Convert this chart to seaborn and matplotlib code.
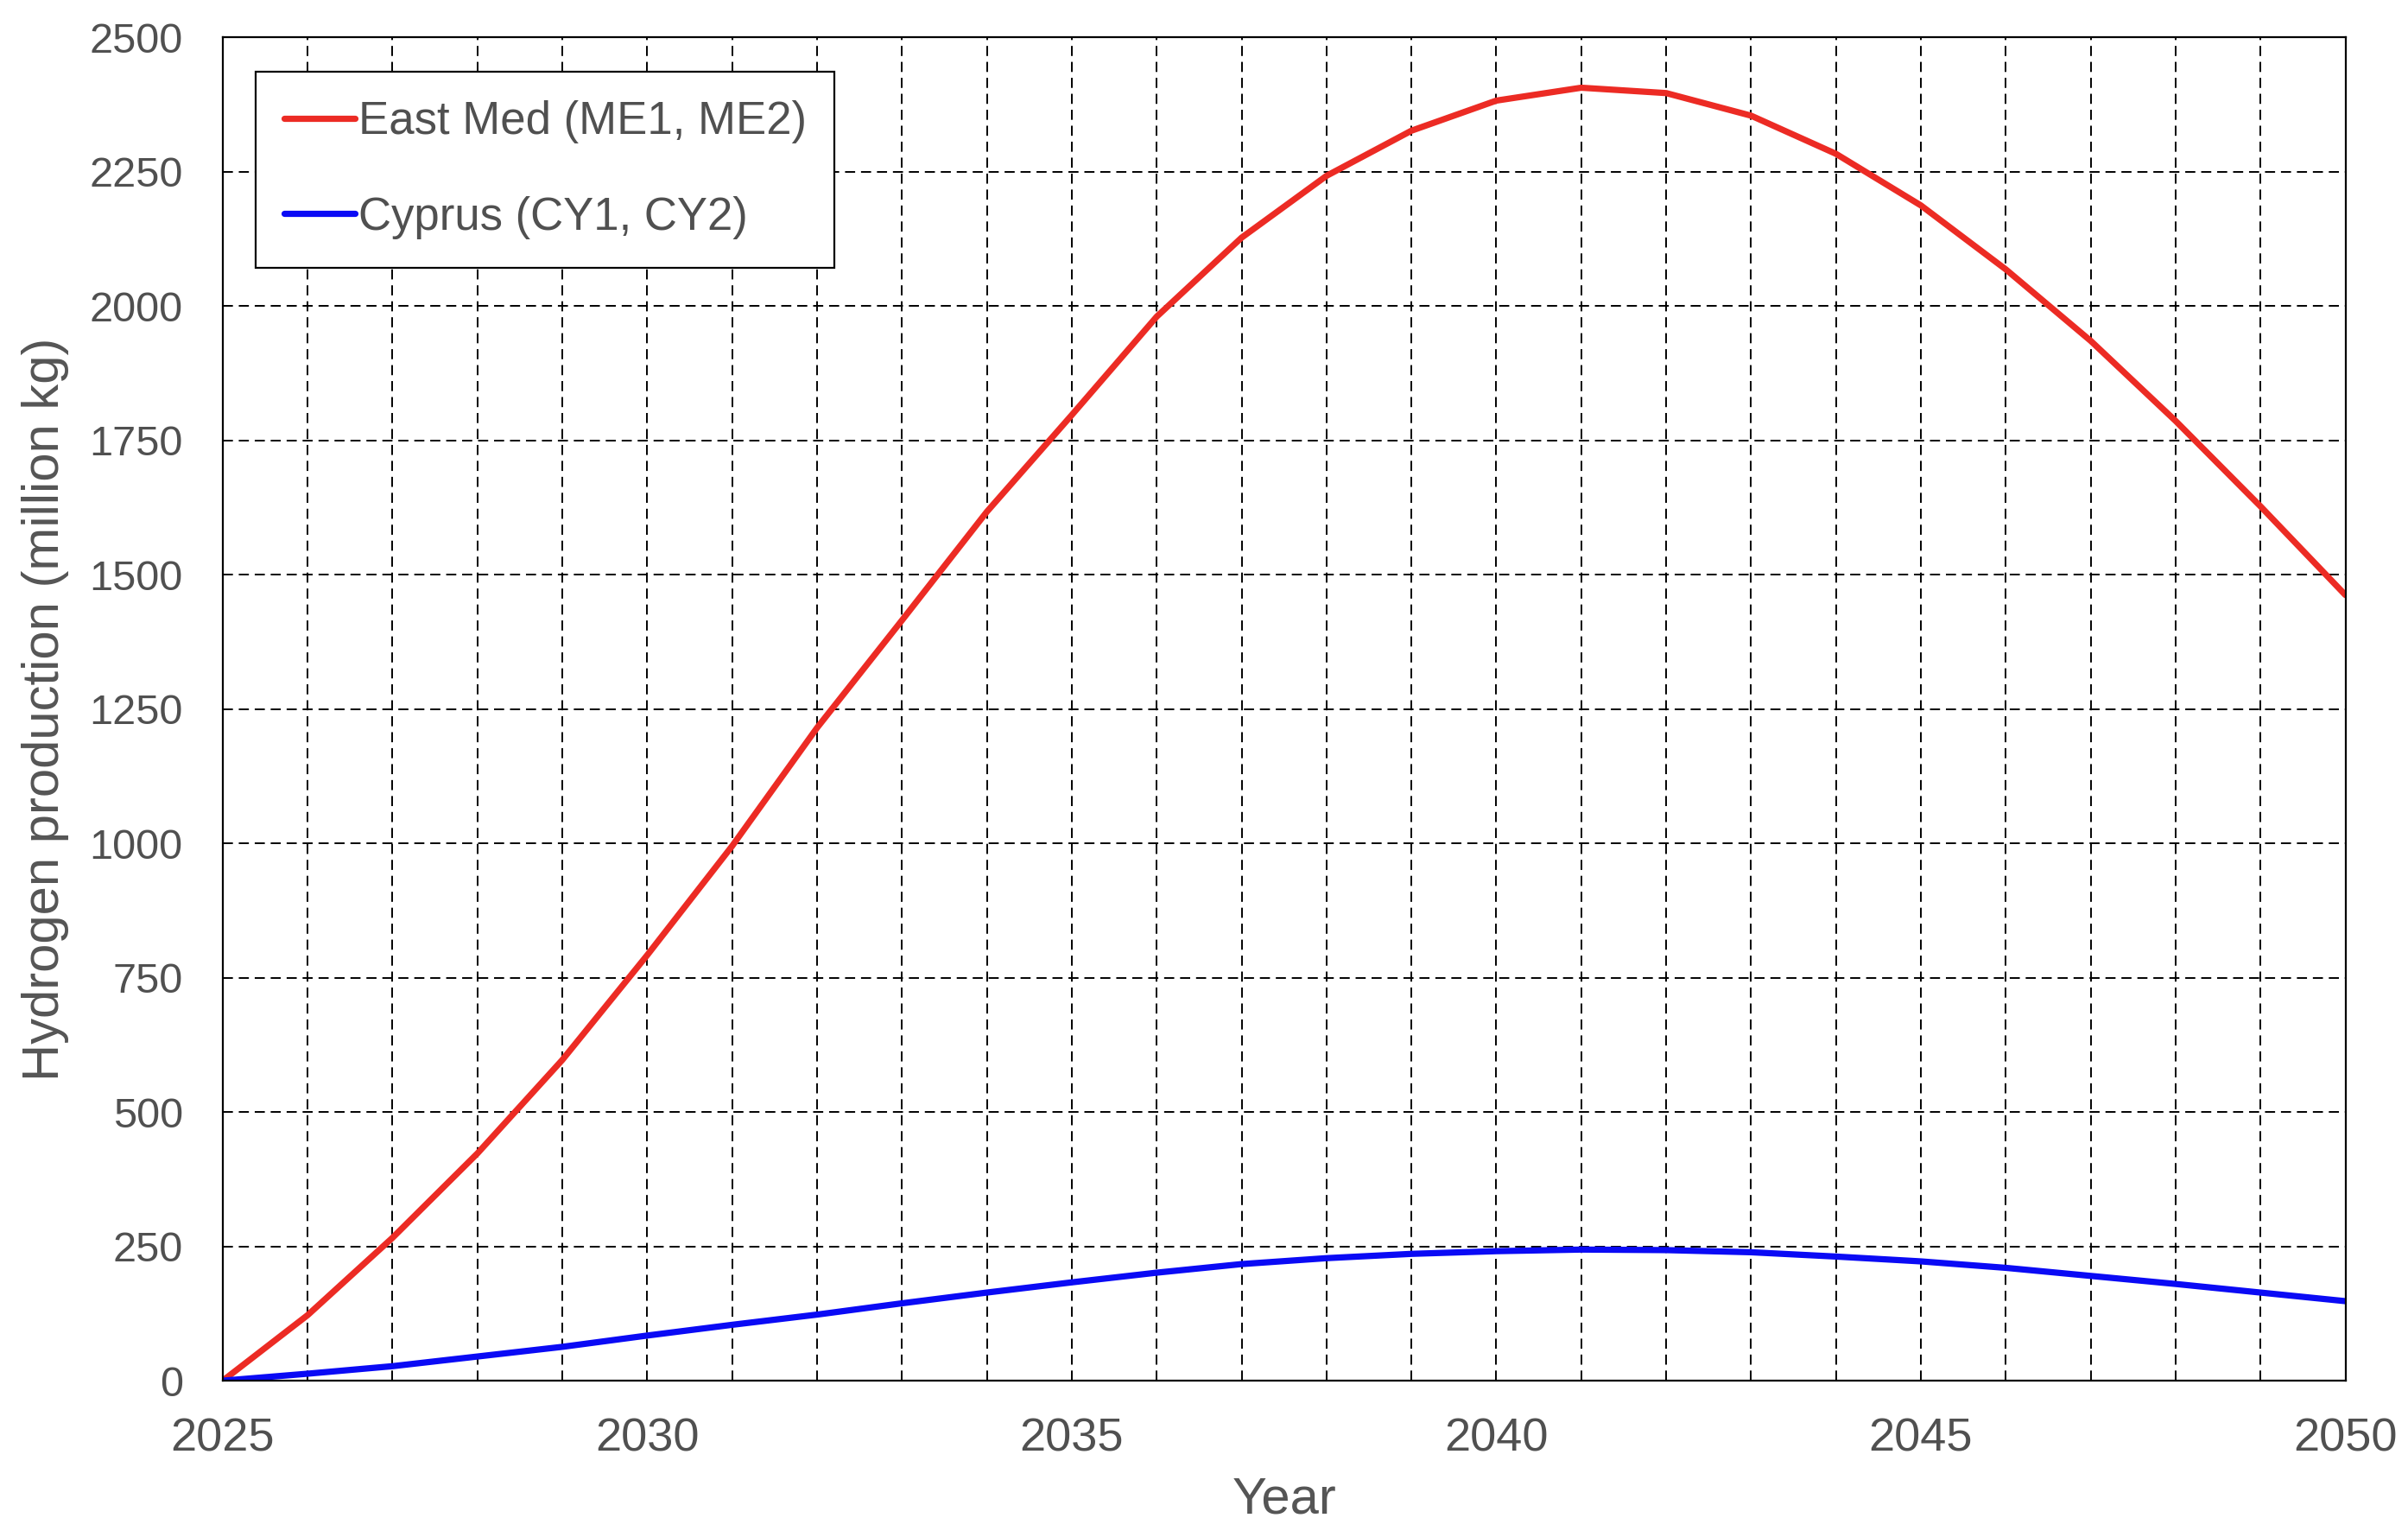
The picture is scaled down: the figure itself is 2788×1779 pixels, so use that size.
import pandas as pd
import seaborn as sns
import matplotlib.pyplot as plt
from matplotlib.ticker import MultipleLocator

years = list(range(2025, 2051))
east_med = [0, 122, 266, 423, 597, 792, 995, 1215, 1415, 1617, 1797, 1980,
            2127, 2242, 2326, 2382, 2406, 2396, 2354, 2283, 2187, 2068,
            1935, 1786, 1627, 1462]
cyprus = [0, 13, 27, 45, 63, 84, 104, 123, 144, 164, 183, 201,
          217, 228, 236, 241, 244, 243, 239, 231, 222, 210,
          195, 180, 164, 148]
labels = ["East Med (ME1, ME2)", "Cyprus (CY1, CY2)"]
colors = ["#ec2b24", "#0a0af5"]

df = pd.concat([
    pd.DataFrame({"Year": years, "value": east_med, "series": labels[0]}),
    pd.DataFrame({"Year": years, "value": cyprus, "series": labels[1]}),
], ignore_index=True)

sns.set_style("white")
plt.rcParams['font.family'] = ['Liberation Sans', 'DejaVu Sans']

fig, ax = plt.subplots(figsize=(13.94, 8.895), dpi=200)
fig.subplots_adjust(left=0.0925, right=0.974, top=0.9758, bottom=0.1017)

sns.lineplot(data=df, x="Year", y="value", hue="series",
             palette=dict(zip(labels, colors)),
             linewidth=2.6, ax=ax, legend=False)

ax.set_xlim(2025, 2050)
ax.set_ylim(0, 2500)
ax.xaxis.set_major_locator(MultipleLocator(5))
ax.xaxis.set_minor_locator(MultipleLocator(1))
ax.yaxis.set_major_locator(MultipleLocator(250))

# dashed grid: every year on x, every 250 on y
dash = (0, (6, 3.5))
ax.grid(True, which="both", axis="x", color="black", linewidth=0.7, linestyle=dash)
ax.grid(True, which="major", axis="y", color="black", linewidth=0.7, linestyle=dash)
ax.set_axisbelow(True)

for s in ax.spines.values():
    s.set_color("black")
    s.set_linewidth(0.8)

ax.tick_params(axis="both", which="major", direction="out", length=5.8, width=0.8,
               color="black", labelcolor="#505050")
ax.tick_params(axis="x", which="minor", direction="out", length=4.3, width=0.8, color="black")
ax.tick_params(axis="x", which="major", labelsize=19.5, pad=9.5)
ax.tick_params(axis="y", which="major", labelsize=17.5, pad=10.8)

ax.set_xlabel("Year", fontsize=21.5, color="#555555")
ax.set_ylabel("Hydrogen production (million kg)", fontsize=21.5, color="#555555")
ax.xaxis.set_label_coords(0.5, -0.071)
ax.yaxis.set_label_coords(-0.0724, 0.5)

handles = [plt.Line2D([], [], color=c, linewidth=2.6) for c in colors]
leg = ax.legend(handles, labels, loc="upper left", bbox_to_anchor=(0.0155, 0.974),
                borderaxespad=0, fontsize=19, handlelength=1.55, handletextpad=0.08,
                labelspacing=1.15, borderpad=0.62, fancybox=False, framealpha=1,
                edgecolor="black", labelcolor="#505050")
leg.get_frame().set_linewidth(0.8)

plt.savefig("out.png", dpi=200)
